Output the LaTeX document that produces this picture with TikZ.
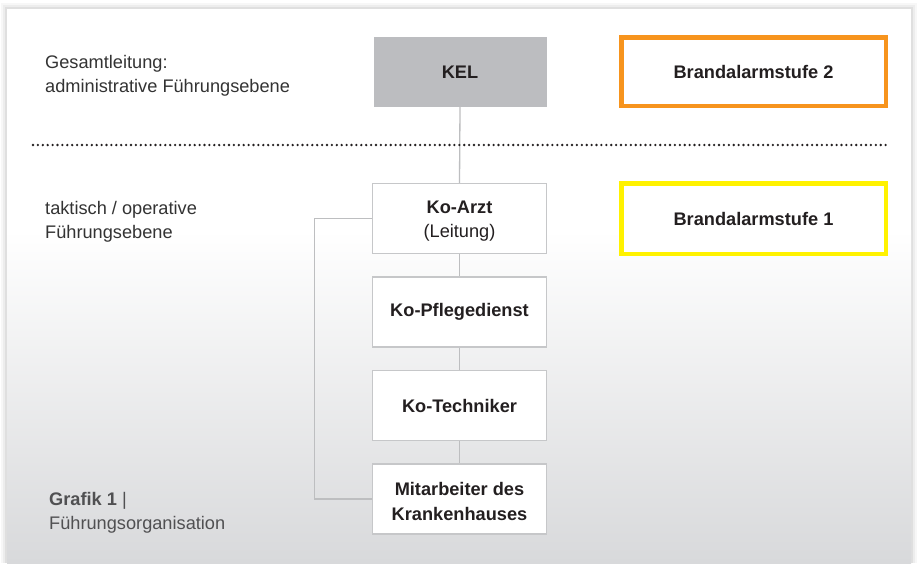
\documentclass[tikz,border=0pt]{standalone}
\usepackage{fontspec}
\setmainfont{Liberation Sans}
\definecolor{boxline}{HTML}{C6C7C9}
\definecolor{conn}{HTML}{BDBEC0}
\definecolor{kelgray}{HTML}{BCBDC0}
\definecolor{txt}{HTML}{231F20}
\definecolor{sidetxt}{HTML}{333333}
\definecolor{captxt}{HTML}{505052}
\definecolor{orangeL}{HTML}{F7941D}
\definecolor{yellowL}{HTML}{FFF200}
\definecolor{bottomgray}{HTML}{D8D9DB}
\tikzset{
  lbl/.style={font=\fontsize{18.2}{24.5}\selectfont, text=txt, align=center, inner sep=0pt},
  kobox/.style={lbl, draw=boxline, line width=1.5pt, fill=white, minimum width=174pt, minimum height=70pt},
  kelbox/.style={lbl, fill=kelgray, minimum width=173pt, minimum height=70pt},
  alarmbox/.style={lbl, line width=4.5pt, fill=white, minimum width=264.5pt, minimum height=68.5pt},
  sidetext/.style={font=\fontsize{18.2}{24.5}\selectfont, text=sidetxt, align=left, anchor=west, inner sep=0pt},
  connector/.style={draw=conn, line width=1.3pt}
}
\begin{document}
\begin{tikzpicture}[x=1pt,y=-1pt]
\useasboundingbox (0,0) rectangle (917,563);
% shadow
\foreach \d/\o in {6/0.03,4/0.04,2/0.06}{
  \fill[black, opacity=\o] (7-\d,9-\d) rectangle (911+\d,563);
}
% panel
\fill[white] (7,9) rectangle (911,563);
\shade[top color=white, bottom color=bottomgray] (7,230) rectangle (911,563);
% dotted separator
\coordinate (dotL) at (33,145);
\coordinate (dotR) at (888,145);
% nodes
\node[kelbox] (kel) at (460,72) {\textbf{KEL}};
\node[kobox] (arzt) at (459.5,218.5) {};
\node[lbl] (arztT) at (459.5,221) {\textbf{Ko-Arzt}\\(Leitung)};
\node[kobox] (pfl) at (459.5,312) {\textbf{Ko-Pflegedienst}};
\node[kobox] (tech) at (459.5,405.5) {\textbf{Ko-Techniker}};
\node[kobox] (mit) at (459.5,499) {};
\node[lbl] (mitT) at (459.5,501.5) {\textbf{Mitarbeiter des}\\\textbf{Krankenhauses}};
\node[alarmbox, draw=orangeL] (ba2) at (753.5,71.5) {\textbf{Brandalarmstufe 2}};
\node[alarmbox, draw=yellowL, minimum height=70.5pt] (ba1) at (753.5,218.5) {\textbf{Brandalarmstufe 1}};
% connectors
\draw[connector] (kel.south) -- (arzt.north);
\draw[connector] (arzt.south) -- (pfl.north);
\draw[connector] (pfl.south) -- (tech.north);
\draw[connector] (tech.south) -- (mit.north);
\draw[connector] (arzt.west) -- ++(-57,0) |- (mit.west);
\draw[line width=2.6pt, line cap=round, dash pattern=on 0pt off 4.9pt, color=txt] (dotL) -- (dotR);
% side texts
\node[sidetext] (t1) at (45,76) {Gesamtleitung:\\administrative Führungsebene};
\node[sidetext] (t2) at (45,222) {taktisch / operative\\Führungsebene};
\node[sidetext, text=captxt] (t3) at (49,513) {\textbf{Grafik 1} |\\Führungsorganisation};
\end{tikzpicture}
\end{document}
